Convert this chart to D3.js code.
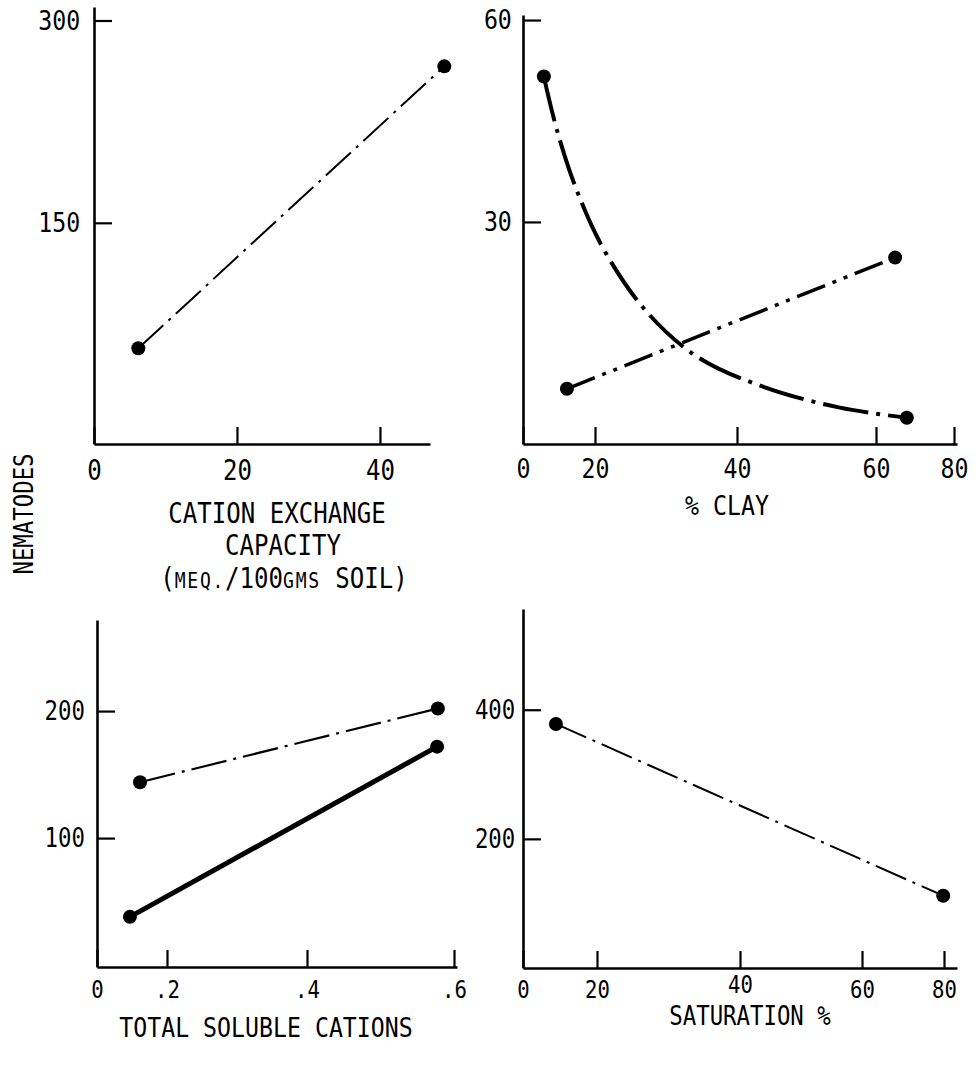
<!DOCTYPE html>
<html>
<head>
<meta charset="utf-8">
<script src="https://cdn.jsdelivr.net/npm/d3@7"></script>
<style>
  body { margin: 0; background: #fff; }
  svg text { font-family: "DejaVu Sans Mono", "Liberation Mono", monospace; fill: #000; }
</style>
</head>
<body>
<div id="chart"></div>
<script>
// values (nematodes vs. soil properties)
const cecPoints = [[6.2, 57], [49, 266]];
const cecTicksX = [0, 20, 40];
const cecTicksY = [150, 300];

const clayCurve = [[5.8, 51.6], [9.4, 43.7], [15, 34.6], [21.4, 25.6], [27.4, 16.5],
  [34.5, 9.9], [43.8, 5.5], [54.8, 2.4], [67.9, 0.9]];
const clayLine = [[12.2, 5.2], [64.9, 24.7]];
const clayTicksX = [0, 20, 40, 60, 80];
const clayTicksY = [30, 60];

const cationsUpper = [[0.123, 144], [0.578, 202]];
const cationsLower = [[0.094, 38], [0.577, 172]];
const cationTicksX = [0, 0.2, 0.4, 0.6];
const cationTicksY = [100, 200];

const satPoints = [[8.9, 378], [79.8, 112]];
const satTicksX = [0, 20, 40, 60, 80];
const satTicksY = [200, 400];

const W = 977, H = 1091;
const SX = 0.86; // typewriter-ish lettering is narrower than the mono font

const svg = d3.select("#chart").append("svg")
  .attr("width", W).attr("height", H);
svg.append("rect").attr("width", W).attr("height", H).attr("fill", "#fff");

// the original's x axes are hand drawn, so the tick spacing is uneven -> piecewise scales
const panels = [
  {
    x: d3.scaleLinear().domain([0, 47]).range([94, 430]),
    y: d3.scaleLinear().domain([-14, 310]).range([444, 7]),
    tx: cecTicksX, ty: cecTicksY, padX: 16, padY: 16, fsX: 28, fsY: 27, fmt: d => d
  },
  {
    x: d3.scaleLinear().domain([0, 20, 40, 60, 80, 80.8]).range([523, 595, 737, 876, 954, 957]),
    y: d3.scaleLinear().domain([-3, 60.75]).range([444, 15]),
    tx: clayTicksX, ty: clayTicksY, padX: 15, padY: 13, fsX: 27, fsY: 27, fmt: d => d
  },
  {
    x: d3.scaleLinear().domain([0, 0.2, 0.4, 0.6, 0.605]).range([97, 167, 307, 454, 457]),
    y: d3.scaleLinear().domain([-1.5, 271.7]).range([967, 620]),
    tx: cationTicksX, ty: cationTicksY, padX: 14, padY: 14, fsX: 24, fsY: 26,
    fmt: d => d === 0 ? "0" : String(d).replace(/^0/, "")
  },
  {
    x: d3.scaleLinear().domain([0, 20, 40, 60, 80, 83]).range([523, 597, 740, 862, 944, 957]),
    y: d3.scaleLinear().domain([0, 556]).range([968, 609]),
    tx: satTicksX, ty: satTicksY, padX: 13, padY: 9, fsX: 24, fsY: 26, fmt: d => d,
    raised: 40 // this label sits a bit higher, above the axis title
  }
];

panels.forEach(p => {
  const y0 = p.y.range()[0];
  const x0 = p.x.range()[0];
  svg.append("g")
    .attr("transform", "translate(0," + y0 + ")")
    .call(d3.axisBottom(p.x).tickValues(p.tx).tickFormat(p.fmt)
      .tickSizeInner(-17).tickSizeOuter(0).tickPadding(p.padX))
    .call(g => g.select(".domain").attr("stroke-width", 2.6))
    .call(g => g.selectAll(".tick line").attr("stroke-width", 2.2))
    .call(g => g.selectAll("text").attr("font-size", p.fsX)
      .attr("transform", "scale(" + SX + ",1)"))
    .call(g => g.selectAll(".tick text").filter(d => d === p.raised).attr("y", p.padX - 5));
  svg.append("g")
    .attr("transform", "translate(" + x0 + ",0)")
    .call(d3.axisLeft(p.y).tickValues(p.ty).tickFormat(p.fmt)
      .tickSizeInner(-18).tickSizeOuter(0).tickPadding(p.padY))
    .call(g => g.select(".domain").attr("stroke-width", 2.6))
    .call(g => g.selectAll(".tick line").attr("stroke-width", 2.2))
    .call(g => g.selectAll("text").attr("font-size", p.fsY)
      .attr("transform", "scale(" + SX + ",1)"));
  svg.selectAll("g").attr("font-family", null);
});

function drawSeries(p, pts, dash, width, curve) {
  const line = d3.line()
    .x(d => p.x(d[0])).y(d => p.y(d[1]))
    .curve(curve || d3.curveLinear);
  svg.append("path")
    .datum(pts)
    .attr("d", line)
    .attr("fill", "none")
    .attr("stroke", "#000")
    .attr("stroke-width", width)
    .attr("stroke-dasharray", dash);
  const ends = [pts[0], pts[pts.length - 1]];
  svg.selectAll(null).data(ends).enter().append("circle")
    .attr("cx", d => p.x(d[0])).attr("cy", d => p.y(d[1]))
    .attr("r", 7).attr("fill", "#000");
}

drawSeries(panels[0], cecPoints, "34,7,3,7", 2);
drawSeries(panels[1], clayCurve, "46,8,4,8", 4, d3.curveCatmullRom);
drawSeries(panels[1], clayLine, "30,8,4,8,4,8", 3.5);
drawSeries(panels[2], cationsUpper, "36,7,3,7", 2.2);
drawSeries(panels[2], cationsLower, null, 5);
drawSeries(panels[3], satPoints, "33,7,3,7", 2);

// axis titles
function label(x, y, txt, size) {
  return svg.append("text")
    .attr("transform", "translate(" + x + "," + y + ") scale(" + SX + ",1)")
    .attr("text-anchor", "middle").attr("font-size", size || 27).text(txt);
}
label(277, 523, "CATION EXCHANGE", 28);
label(283, 555, "CAPACITY", 28);
const meq = label(284, 588, "", 28);
meq.append("tspan").text("(");
meq.append("tspan").attr("font-size", 21).attr("letter-spacing", 2).text("MEQ.");
meq.append("tspan").text("/100");
meq.append("tspan").attr("font-size", 21).attr("letter-spacing", 2).text("GMS");
meq.append("tspan").text(" SOIL)");
label(727, 515, "% CLAY", 27);
label(266, 1037, "TOTAL SOLUBLE CATIONS", 27);
label(750, 1025, "SATURATION %", 26);
svg.append("text")
  .attr("transform", "translate(33,514) rotate(-90) scale(" + SX + ",1)")
  .attr("text-anchor", "middle").attr("font-size", 26)
  .text("NEMATODES");
</script>
</body>
</html>
